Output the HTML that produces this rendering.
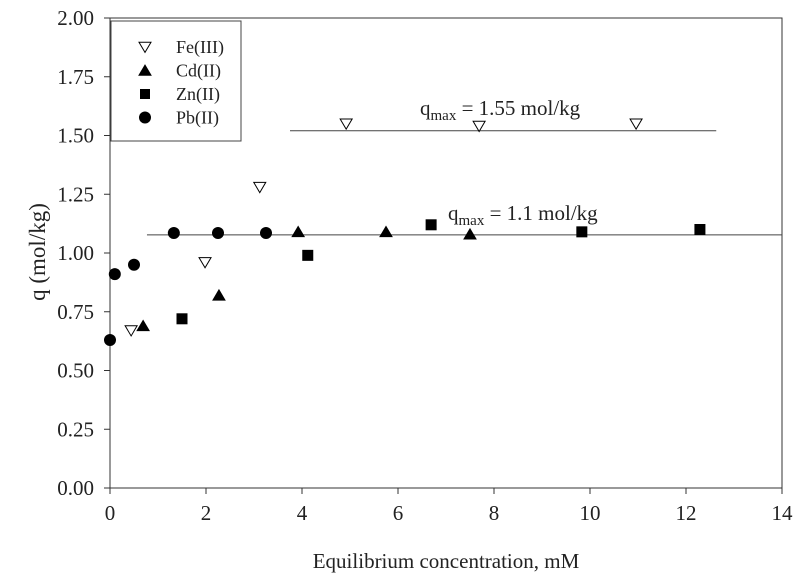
<!DOCTYPE html>
<html><head><meta charset="utf-8"><style>
body{margin:0;background:#fff}
svg{display:block;font-family:"Liberation Serif",serif}
</style></head><body>
<svg width="798" height="581" viewBox="0 0 798 581">
<script>
const xTicks=[0,2,4,6,8,10,12,14];
const yTicks=[0,0.25,0.5,0.75,1.0,1.25,1.5,1.75,2.0];
const feX=[0.44,1.98,3.12,4.92,7.69,10.96];
const feY=[0.67,0.96,1.28,1.55,1.54,1.55];
const cdX=[0.69,2.27,3.92,5.75,7.5];
const cdY=[0.69,0.82,1.09,1.09,1.08];
const znX=[1.5,4.12,6.69,9.83,12.29];
const znY=[0.72,0.99,1.12,1.09,1.10];
const pbX=[0,0.1,0.5,1.33,2.25,3.25];
const pbY=[0.63,0.91,0.95,1.085,1.085,1.085];
const fitFe=[3.75,12.63,1.52];
const fitAll=[0.77,14,1.077];
</script>
<g id="g"></g>
<script>
(function(){
const NS="http://www.w3.org/2000/svg";
const g=document.getElementById('g');
const X0=110,X1=782,Y0=488,Y1=18;
const sx=v=>X0+(v-0)/14*(X1-X0);
const sy=v=>Y0-(v/2)*(Y0-Y1);
function mk(t,a,txt,parent){const e=document.createElementNS(NS,t);for(const k in a)e.setAttribute(k,a[k]);if(txt!=null)e.textContent=txt;(parent||g).appendChild(e);return e;}
let e;
e=mk('rect',{x:X0,y:Y1,width:X1-X0,height:Y0-Y1,fill:'none',stroke:'#333','stroke-width':1});


xTicks.forEach(v=>{
 e=mk('line',{x1:sx(v),x2:sx(v),y1:Y0,y2:Y0+6,stroke:'#333'});
 
 
 e=mk('text',{x:sx(v),y:Y0+32,'text-anchor':'middle','font-size':21,fill:'#222'},String(v));
 
 
});
yTicks.forEach(v=>{
 e=mk('line',{x1:X0-6,x2:X0,y1:sy(v),y2:sy(v),stroke:'#333'});
 
 
 e=mk('text',{x:X0-16,y:sy(v)+7,'text-anchor':'end','font-size':21,fill:'#222'},v.toFixed(2));
 
 
});
e=mk('text',{x:446,y:568,'text-anchor':'middle','font-size':21,fill:'#222'},'Equilibrium concentration, mM');


e=mk('text',{x:0,y:0,'text-anchor':'middle','font-size':23,fill:'#222',transform:'translate(45,252) rotate(-90)'},'q (mol/kg)');


e=mk('line',{x1:sx(fitFe[0]),x2:sx(fitFe[1]),y1:sy(fitFe[2]),y2:sy(fitFe[2]),stroke:'#444','stroke-width':1});


e=mk('line',{x1:sx(fitAll[0]),x2:sx(fitAll[1]),y1:sy(fitAll[2]),y2:sy(fitAll[2]),stroke:'#444','stroke-width':1});


function qlab(x,y,rest){
 const t=mk('text',{x:x,y:y,'font-size':21,fill:'#222'},'q');
 mk('tspan',{'font-size':15,dy:5},'max',t);
 mk('tspan',{dy:-5},rest,t);
 return t;}
e=qlab(420,115,' = 1.55 mol/kg');


e=qlab(448,220,' = 1.1 mol/kg');


function tri(x,y,down,fill){const s=6;const p=down?`${x-s},${y-s*0.8} ${x+s},${y-s*0.8} ${x},${y+s*0.9}`:`${x-s},${y+s*0.8} ${x+s},${y+s*0.8} ${x},${y-s*0.9}`;return mk('polygon',{points:p,fill:fill,stroke:'#000','stroke-width':1});}
feX.forEach((v,i)=>{e=tri(sx(v),sy(feY[i]),true,'#fff');
 
 });
cdX.forEach((v,i)=>{e=tri(sx(v),sy(cdY[i]),false,'#000');
 
 });
znX.forEach((v,i)=>{e=mk('rect',{x:sx(v)-5.5,y:sy(znY[i])-5.5,width:11,height:11,fill:'#000'});
 
 });
pbX.forEach((v,i)=>{e=mk('circle',{cx:sx(v),cy:sy(pbY[i]),r:6,fill:'#000'});
 
 });
e=mk('rect',{x:111,y:21,width:130,height:120,fill:'#fff',stroke:'#444'});


const labs=['Fe(III)','Cd(II)','Zn(II)','Pb(II)'];
labs.forEach((l,i)=>{const y=47+i*23.5,x=145;
 if(i==0)e=tri(x,y,true,'#fff');else if(i==1)e=tri(x,y,false,'#000');else if(i==2)e=mk('rect',{x:x-5,y:y-5,width:10,height:10,fill:'#000'});else e=mk('circle',{cx:x,cy:y,r:6,fill:'#000'});
 
 
 e=mk('text',{x:176,y:y+6,'font-size':18,fill:'#222'},l);
 
 
});
})();
</script>
</svg>
</body></html>
